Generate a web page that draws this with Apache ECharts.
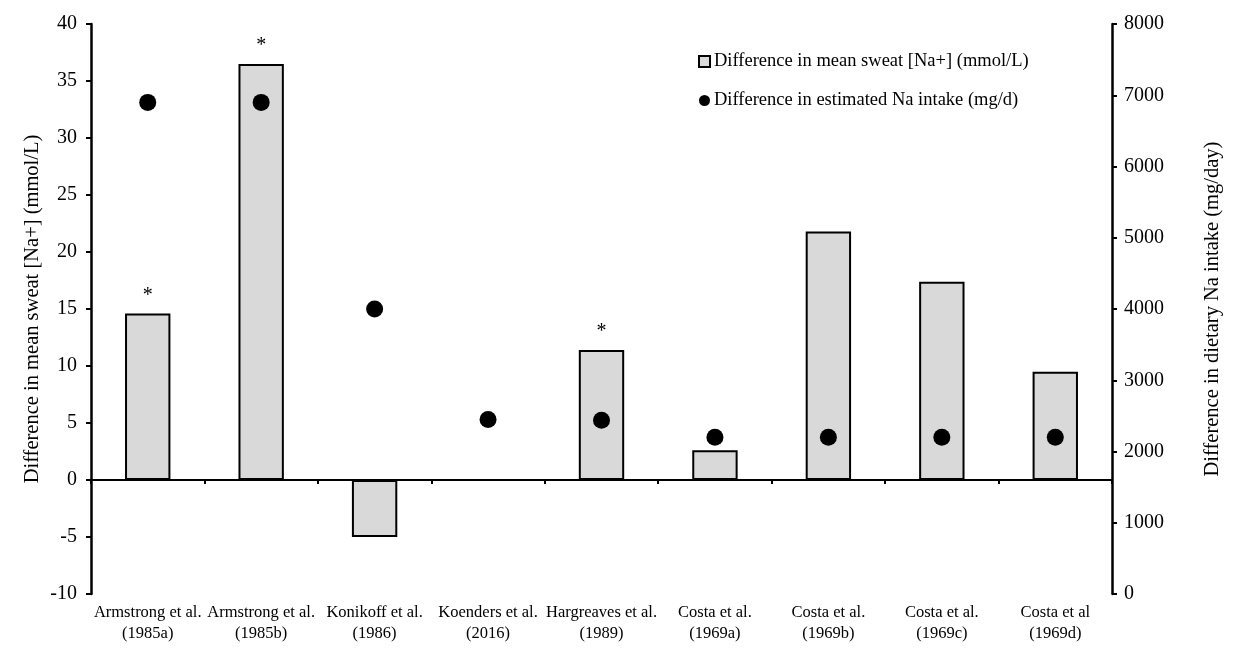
<!DOCTYPE html>
<html><head><meta charset="utf-8">
<script src="https://cdn.jsdelivr.net/npm/echarts@6/dist/echarts.min.js"></script>
<style>html,body{margin:0;padding:0;background:#fff}#c{width:1249px;height:672px}</style>
</head><body><div id="c"></div>
<script>
const categories = ['Armstrong et al.\n(1985a)','Armstrong et al.\n(1985b)','Konikoff et al.\n(1986)','Koenders et al.\n(2016)','Hargreaves et al.\n(1989)','Costa et al.\n(1969a)','Costa et al.\n(1969b)','Costa et al.\n(1969c)','Costa et al\n(1969d)'];
const sweatNa = [14.6, 36.5, -5.0, 0, 11.4, 2.6, 21.8, 17.4, 9.5];
const naIntake = [6900, 6900, 4000, 2450, 2440, 2200, 2200, 2200, 2200];
const significance = ['*', '*', '', '', '*', '', '', '', ''];
const leftTicks = {min: -10, max: 40, interval: 5};
const rightTicks = {min: 0, max: 8000, interval: 1000};

const font = '"Liberation Serif", "Times New Roman", serif';
const chart = echarts.init(document.getElementById('c'));
chart.setOption({
  animation: false,
  textStyle: {fontFamily: font, color: '#000'},
  grid: {left: 91, right: 137, top: 24, bottom: 78},
  legend: {
    orient: 'vertical', left: 693, top: 47, itemGap: 20, itemWidth: 11, itemHeight: 11,
    textStyle: {fontFamily: font, fontSize: 18.5, color: '#000', padding: [0, 0, 0, -1]},
    data: [
      {name: 'Difference in mean sweat [Na+] (mmol/L)', icon: 'rect'},
      {name: 'Difference in estimated Na intake (mg/d)', icon: 'circle'}
    ]
  },
  xAxis: [
    {type: 'category', data: categories, axisLine: {onZero: true, lineStyle: {color: '#000', width: 2}},
     axisTick: {show: true, length: 4, lineStyle: {color: '#000', width: 2}}, axisLabel: {show: false}},
    {type: 'category', data: categories, position: 'bottom', axisLine: {show: false}, axisTick: {show: false},
     axisLabel: {fontFamily: font, fontSize: 16.5, color: '#000', margin: 8, lineHeight: 21, interval: 0}}
  ],
  yAxis: [
    {type: 'value', min: leftTicks.min, max: leftTicks.max, interval: leftTicks.interval, position: 'left',
     name: 'Difference in mean sweat [Na+] (mmol/L)', nameLocation: 'middle', nameGap: 48, nameRotate: 90,
     nameMoveOverlap: false,
     nameTextStyle: {fontFamily: font, fontSize: 20.5, color: '#000'},
     axisLine: {show: true, onZero: false, lineStyle: {color: '#000', width: 2.5}},
     axisTick: {show: true, length: 5, lineStyle: {color: '#000', width: 2}},
     axisLabel: {fontFamily: font, fontSize: 20, color: '#000', margin: 14}, splitLine: {show: false}},
    {type: 'value', min: rightTicks.min, max: rightTicks.max, interval: rightTicks.interval, position: 'right',
     name: 'Difference in dietary Na intake (mg/day)', nameLocation: 'middle', nameGap: 90, nameRotate: 90,
     nameTextStyle: {fontFamily: font, fontSize: 20.5, color: '#000'},
     axisLine: {show: true, onZero: false, lineStyle: {color: '#000', width: 2.5}},
     axisTick: {show: true, length: 5, lineStyle: {color: '#000', width: 2}},
     axisLabel: {fontFamily: font, fontSize: 20, color: '#000', margin: 12, formatter: v => String(v)}, splitLine: {show: false}}
  ],
  series: [
    {name: 'Difference in mean sweat [Na+] (mmol/L)', type: 'bar', xAxisIndex: 0, yAxisIndex: 0,
     data: sweatNa, barWidth: '40%',
     itemStyle: {color: '#d9d9d9', borderColor: '#000', borderWidth: 2},
     label: {show: true, position: 'top', distance: 8, fontFamily: font, fontSize: 20, color: '#000',
       formatter: p => significance[p.dataIndex]}},
    {name: 'Difference in estimated Na intake (mg/d)', type: 'scatter', xAxisIndex: 0, yAxisIndex: 1,
     data: naIntake, symbol: 'circle', symbolSize: 17, itemStyle: {color: '#000', opacity: 1}, z: 5}
  ]
});
</script></body></html>
